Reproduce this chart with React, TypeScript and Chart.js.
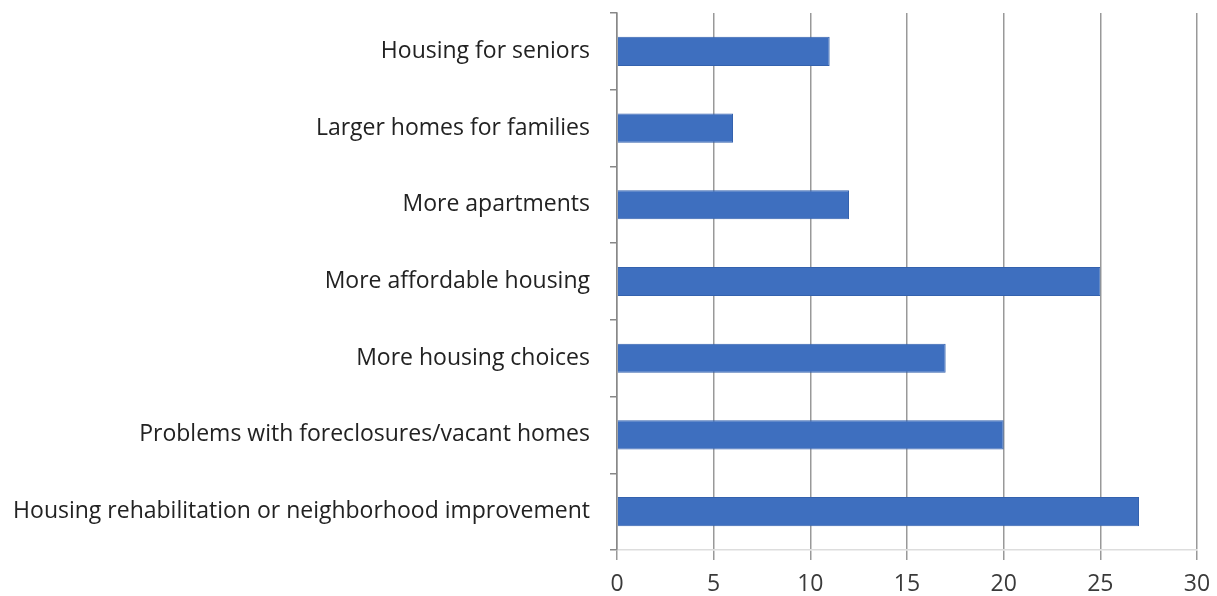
import React, { useEffect, useRef } from "react";
import { Chart, registerables } from "chart.js";

Chart.register(...registerables);

const categories = [
  "Housing for seniors",
  "Larger homes for families",
  "More apartments",
  "More affordable housing",
  "More housing choices",
  "Problems with foreclosures/vacant homes",
  "Housing rehabilitation or neighborhood improvement",
];
const values = [11, 6, 12, 25, 17, 20, 27];
const xMin = 0;
const xMax = 30;
const xStep = 5;

export default function App() {
  const ref = useRef<HTMLCanvasElement | null>(null);
  useEffect(() => {
    if (!ref.current) return;
    const chart = new Chart(ref.current, {
      type: "bar",
      data: {
        labels: categories,
        datasets: [
          {
            data: values,
            backgroundColor: "#3E6FBF",
            borderColor: "#3462AE",
            borderWidth: 1,
            categoryPercentage: 1,
            barPercentage: 0.38,
          },
        ],
      },
      options: {
        indexAxis: "y",
        animation: false,
        responsive: false,
        layout: { padding: { top: 13, right: 20, left: 0, bottom: 0 } },
        plugins: { legend: { display: false }, tooltip: { enabled: false } },
        scales: {
          x: {
            min: xMin,
            max: xMax,
            ticks: {
              stepSize: xStep,
              color: "#3a3a3a",
              padding: 11,
              font: { family: "Open Sans", size: 23 },
            },
            grid: {
              color: "#999",
              lineWidth: 1.5,
              tickLength: 10,
              drawTicks: true,
            },
            border: { display: true, color: "#ddd", width: 1.5 },
            afterFit: (s: any) => {
              s.height = 46;
              s.paddingLeft = 0;
              s.paddingRight = 0;
            },
          },
          y: {
            ticks: {
              color: "#222",
              padding: 20,
              font: { family: "Open Sans", size: 23 },
            },
            grid: {
              drawOnChartArea: false,
              drawTicks: true,
              tickLength: 7,
              offset: true,
              color: "#888",
              lineWidth: 1.5,
            },
            border: { display: true, color: "#888", width: 1.5 },
            afterFit: (s: any) => {
              s.width = 617;
              s.paddingTop = 0;
              s.paddingBottom = 0;
            },
          },
        },
      },
    });
    return () => chart.destroy();
  }, []);
  return (
    <div style={{ position: "fixed", left: 0, top: 0, width: 1217, height: 596, background: "#fff" }}>
      <canvas ref={ref} width={1217} height={596} style={{ width: 1217, height: 596 }} />
    </div>
  );
}
